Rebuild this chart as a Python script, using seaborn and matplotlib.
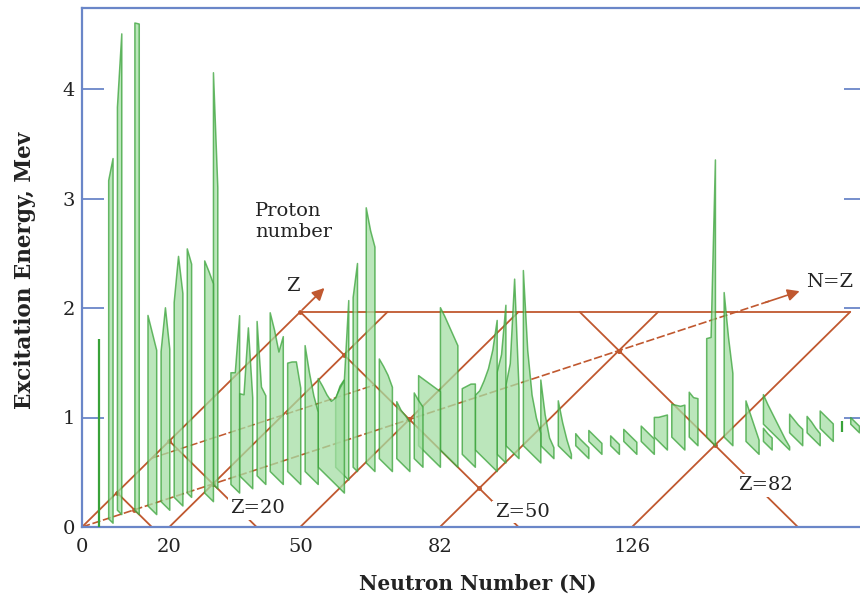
import matplotlib
matplotlib.use("Agg")
import matplotlib.pyplot as plt
import numpy as np
import pandas as pd
import seaborn as sns

# ---------------- data: first excited-state energies (MeV) of even-even nuclei ----------------
# one ribbon per proton number Z, spanning the listed neutron numbers N
ribbon_Z = [2, 4, 6, 8, 10, 12, 14, 16, 18, 20, 22, 24, 26, 28, 30, 32, 34, 36, 38, 40,
            42, 44, 46, 48, 50, 52, 54, 56, 58, 60, 62, 64, 66, 68, 70, 72, 74, 76, 78, 80,
            82, 84, 86, 88, 90, 92, 94, 96, 98, 100]
ribbon_N = [
    [4], [4, 6], [4, 6], [8, 10], [10, 12, 14], [12, 14, 16], [14, 16, 18], [16, 18],
    [20, 22, 24], [20, 22], [24, 26, 28], [24, 26, 28, 30], [28, 30, 32], [30, 32, 34, 36],
    [34, 36, 38, 40], [38, 40, 42, 44], [40, 42, 44, 46, 48, 50, 52], [44, 46, 48, 50],
    [48, 50], [50, 52, 54], [52, 54, 56, 58], [56, 58, 60, 62], [60, 62, 64],
    [58, 60, 62, 64, 66, 68], [64, 66, 68, 70, 72], [70, 72, 74, 76],
    [72, 74, 76, 78, 80, 82], [78, 80, 82], [78, 80, 82, 84], [82, 84, 86, 88, 90],
    [86, 88, 90, 92], [90, 92, 94, 96], [94, 96, 98, 100], [96, 98, 100, 102],
    [102, 104, 106], [104, 106, 108, 110], [108, 110, 112, 114], [110, 112, 114, 116],
    [114, 116, 118, 120], [118, 120, 122], [122, 124, 126], [126, 128, 130],
    [132, 134, 136, 138], [136, 138, 140], [132, 134, 136, 138, 140, 142, 144],
    [140, 142, 144, 146], [144, 146, 148, 150], [146, 148, 150, 152], [152], [152, 154, 156]]
ribbon_E = [
    [1.72], [3.09, 3.33], [3.68, 4.39], [4.45, 4.48], [1.74, 1.62, 1.50], [1.37, 1.81, 1.47],
    [1.78, 2.24, 1.94], [2.23, 2.13], [2.12, 2.06, 1.99], [3.76, 2.75], [1.02, 1.06, 1.62],
    [0.75, 0.78, 1.43, 0.83], [1.41, 0.85, 0.81], [1.45, 1.33, 1.17, 1.35],
    [0.99, 1.04, 1.08, 0.88], [1.15, 0.94, 0.77, 0.66], [0.81, 0.78, 0.74, 0.72, 0.79, 0.92, 1.03],
    [0.62, 0.78, 0.88, 1.64], [1.55, 1.90], [2.33, 2.16, 2.05], [0.91, 0.88, 0.84, 0.77],
    [0.52, 0.48, 0.47, 0.45], [0.60, 0.57, 0.55], [0.64, 0.65, 0.66, 0.67, 0.68, 0.69],
    [1.30, 1.26, 1.21, 1.16, 1.11], [0.60, 0.66, 0.72, 0.76],
    [0.50, 0.58, 0.71, 0.86, 1.07, 1.38], [0.75, 0.95, 1.44], [0.55, 0.79, 1.60, 0.64],
    [1.60, 0.91, 0.54, 0.37, 0.27], [0.60, 0.32, 0.15, 0.10], [0.41, 0.25, 0.13, 0.04],
    [0.11, 0.10, 0.10, 0.10], [0.10, 0.10, 0.10, 0.10], [0.09, 0.09, 0.09],
    [0.11, 0.11, 0.11, 0.11], [0.14, 0.14, 0.14, 0.14], [0.18, 0.22, 0.27, 0.32],
    [0.30, 0.33, 0.36, 0.41], [0.41, 0.40, 0.43], [0.90, 0.95, 2.61], [1.32, 0.95, 0.66],
    [0.37, 0.29, 0.21, 0.13], [0.12, 0.11, 0.11], [0.27, 0.22, 0.18, 0.14, 0.10, 0.06, 0.03],
    [0.17, 0.16, 0.15, 0.15], [0.15, 0.14, 0.12, 0.11], [0.16, 0.16, 0.16, 0.16], [0.10],
    [0.06, 0.06, 0.06]]

# guide lines on the (N, Z) floor
magic_N = [0, 20, 50, 82, 126]
magic_Z = [8, 20, 50, 82]
floor_depth = 100            # back edge of the floor: 2Z - N = 100
nz_arrow_end = 110           # N = Z arrow runs to N = Z = 110
z_arrow_end = 56             # Z axis arrow on the N = 0 line
extra_NminusZ = [-16]        # extra dashed guide parallel to N = Z
extra_N_range = [(0, 34)]

x_ticks = [0, 20, 50, 82, 126]
y_ticks = [0, 1, 2, 3, 4]

zlabels = ["Z=20", "Z=50", "Z=82"]
zlabel_pos = [(40.3, 0.17), (100.8, 0.137), (156.5, 0.38)]

# ---------------- oblique projection ----------------
KZ, KN = 0.0393, 0.01965


def proj(N, Z, E=0.0):
    N = np.asarray(N, float)
    Z = np.asarray(Z, float)
    return 0.5 * N + Z, E + KZ * Z - KN * N


RED = "#c0582f"
BLUE = "#6a86c8"
GEDGE = "#38a238"
GFILL = "#a4dea4"

sns.set_style("white")
plt.rcParams["font.family"] = ["DejaVu Serif"]

fig = plt.figure(figsize=(8.6, 6.03), dpi=100)
ax = fig.add_axes([82 / 860, 76 / 603, 784 / 860, 519 / 603])
ax.set_xlim(0, 784 / 4.365)
ax.set_ylim(0, 519 / 109.5)

# ---------------- red floor grid ----------------
rows = []
seg = 0
for n in magic_N:
    z = np.array([n / 2, (floor_depth + n) / 2])
    x, y = proj([n, n], z)
    for xi, yi in zip(x, y):
        rows.append((seg, xi, yi))
    seg += 1
for zz in magic_Z:
    n = np.array([max(0, 2 * zz - floor_depth), 2 * zz])
    x, y = proj(n, [zz, zz])
    for xi, yi in zip(x, y):
        rows.append((seg, xi, yi))
    seg += 1
# back edge
n = np.array([0, magic_N[-1]])
x, y = proj(n, (floor_depth + n) / 2)
for xi, yi in zip(x, y):
    rows.append((seg, xi, yi))
seg += 1
grid = pd.DataFrame(rows, columns=["seg", "x", "y"])
sns.lineplot(data=grid, x="x", y="y", units="seg", estimator=None, sort=False,
             color=RED, lw=1.3, ax=ax, zorder=1, legend=False)

# N = Z line (dashed) with arrow
t = np.array([0, nz_arrow_end - 5])
x, y = proj(t, t)
sns.lineplot(x=x, y=y, estimator=None, sort=False, color=RED, lw=1.2,
             linestyle=(0, (5, 1.6)), ax=ax, zorder=1)
# extra dashed guides parallel to N = Z
for c, (n0, n1) in zip(extra_NminusZ, extra_N_range):
    nn = np.array([n0, n1], float)
    x, y = proj(nn, nn - c)
    sns.lineplot(x=x, y=y, estimator=None, sort=False, color=RED, lw=1.1,
                 linestyle=(0, (5, 1.6)), ax=ax, zorder=1)
xs, ys = proj(nz_arrow_end - 6, nz_arrow_end - 6)
xe, ye = proj(nz_arrow_end, nz_arrow_end)
ax.annotate("", xy=(xe, ye), xytext=(xs, ys),
            arrowprops=dict(arrowstyle="-|>", color=RED, lw=1.2, mutation_scale=18))
# Z axis arrow
xs, ys = proj(0, floor_depth / 2)
xe, ye = proj(0, z_arrow_end)
ax.annotate("", xy=(xe, ye), xytext=(xs, ys),
            arrowprops=dict(arrowstyle="-|>", color=RED, lw=1.3, mutation_scale=18))

# intersection dots
dots = []
for n in magic_N + [None]:
    for zz in magic_Z:
        nn = zz if n is None else n
        if 0 <= 2 * zz - nn <= floor_depth:
            dots.append(proj(nn, zz))
dx = [d[0] for d in dots]
dy = [d[1] for d in dots]
ax.scatter(dx, dy, s=6, color=RED, zorder=1)

# ---------------- green ribbons (back to front) ----------------
order = np.argsort(ribbon_Z)[::-1]
for i in order:
    Z = ribbon_Z[i]
    N = np.array(ribbon_N[i], float)
    E = np.array(ribbon_E[i], float)
    x, lo = proj(N, np.full_like(N, Z))
    hi = lo + E
    if len(N) == 1:
        ax.vlines(x, lo, hi, color=GEDGE, lw=1.6, zorder=3)
    else:
        ax.fill_between(x, lo, hi, facecolor=GFILL, edgecolor=GEDGE, lw=1.1,
                        alpha=0.75, zorder=3)

# ---------------- texts ----------------
for lab, (lx, ly) in zip(zlabels, zlabel_pos):
    ax.text(lx, ly, lab, ha="center", va="center", fontsize=14, color="#222222",
            bbox=dict(facecolor="white", edgecolor="none", pad=1.5), zorder=4)
ax.text(39.6, 2.97, "Proton\nnumber", ha="left", va="top", fontsize=14,
        color="#222222", linespacing=1.25, zorder=4)
ax.text(48.3, 2.2, "Z", ha="center", va="center", fontsize=14, color="#222222", zorder=4)
ax.text(165.8, 2.24, "N=Z", ha="left", va="center", fontsize=14, color="#222222", zorder=4)

# ---------------- axes styling ----------------
ax.set_xticks(x_ticks)
ax.set_xticklabels([str(v) for v in x_ticks])
ax.set_yticks(y_ticks)
ax.set_yticklabels([str(v) for v in y_ticks])
ax.tick_params(axis="x", length=0, pad=8, labelsize=14, labelcolor="#222222")
ax.tick_params(axis="y", direction="in", length=16, width=1.3, color=BLUE, pad=5,
               labelsize=14, labelcolor="#222222", left=True, right=True)
for side in ["left", "top", "bottom", "right"]:
    ax.spines[side].set_color(BLUE)
    ax.spines[side].set_linewidth(1.6)
ax.spines["right"].set_visible(False)

ax.set_xlabel("Neutron Number (N)", fontsize=14.5, fontweight="bold", color="#222222")
ax.xaxis.set_label_coords(0.505, -0.09)
ax.xaxis.label.set_va("top")
ax.set_ylabel("Excitation Energy, Mev", fontsize=15.5, fontweight="bold", color="#222222")
ax.yaxis.set_label_coords(-0.073, 0.495)
ax.yaxis.label.set_va("center")

fig.savefig("out.png", dpi=100)
